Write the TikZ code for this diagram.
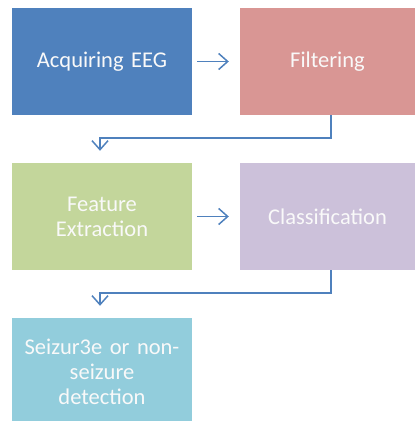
\documentclass[tikz,border=0pt]{standalone}
\usepackage{fontspec}
\setmainfont{Carlito}
\usetikzlibrary{calc}
\usetikzlibrary{arrows.meta}
\definecolor{bg1}{RGB}{79,129,189}
\definecolor{bg2}{RGB}{217,150,148}
\definecolor{bg3}{RGB}{195,214,155}
\definecolor{bg4}{RGB}{204,193,218}
\definecolor{bg5}{RGB}{146,205,220}
\definecolor{l1}{RGB}{79,129,189}

\begin{document}
\begin{tikzpicture}[
    x=1pt, y=-1pt,
    font=\fontsize{22.5}{25}\selectfont,
    l/.style={
        line width=1.5pt,
        color=l1,
        -{Straight Barb[length=9pt,width=16pt]}
    },
    e/.style={
        minimum width=180pt, minimum height=107pt, inner sep=0pt,
        text=white!95!gray, align=center, text width=174pt
    }
]

    \useasboundingbox (0,0) rectangle (415,421);
    \clip (0,0) rectangle (415,421);

    \node [e, fill=bg1] (A) at (102  ,  61.5) {Acquiring EEG};
    \node [e, fill=bg2, minimum width=175pt] (B) at (327.5,  61.5) {Filtering};
    \node [e, fill=bg3] (C) at (102  , 216.5) {Feature\\Extraction};
    \node [e, fill=bg4, minimum width=175pt] (D) at (327.5, 216.5) {Classification};
    \node [e, fill=bg5] (E) at (102  , 371.5) {Seizur3e or non-\\seizure\\detection};

    \draw [l] ([xshift=5pt]A.east) -- ([xshift=-11pt]B.west);
    \draw [l] ([xshift=5pt]C.east) -- ([xshift=-11pt]D.west);
    \draw [l] ([xshift=3.5pt]B.south) -- ++(0,23) -| ([xshift=-2pt,yshift=12pt]C.north);
    \draw [l] ([xshift=3.5pt]D.south) -- ++(0,23) -| ([xshift=-2pt,yshift=12pt]E.north);

\end{tikzpicture}
\end{document}
